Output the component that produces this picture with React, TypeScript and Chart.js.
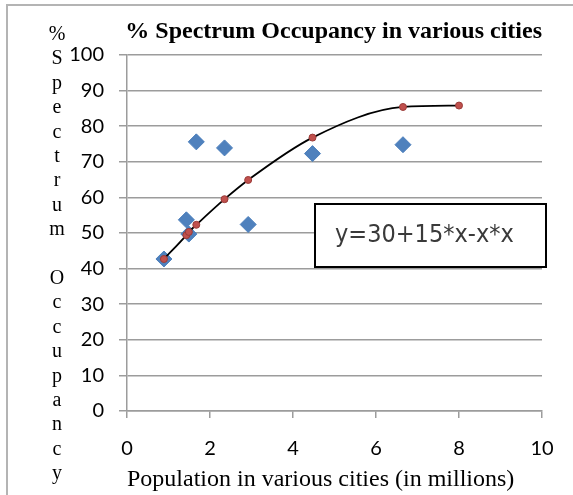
import React, { useEffect, useRef } from 'react';
import { Chart, registerables } from 'chart.js';

Chart.register(...registerables);

const TITLE = '% Spectrum Occupancy in various cities';
const X_TITLE = 'Population in various cities (in millions)';
// y-axis title, stacked one character per line
const Y_TITLE_LINES = ['%', 'S', 'p', 'e', 'c', 't', 'r', 'u', 'm', '', 'O', 'c', 'c', 'u', 'p', 'a', 'n', 'c', 'y'];
const EQUATION = 'y=30+15*x-x*x';

// measured points (blue diamonds)
const POP_X = [0.89, 1.43, 1.49, 1.67, 2.35, 2.92, 4.47, 6.65];
const OCC_Y = [42.7, 53.7, 49.7, 75.6, 73.9, 52.4, 72.3, 74.8];

// fitted points (red dots on the black curve)
const FIT_X = [0.89, 1.43, 1.49, 1.67, 2.35, 2.92, 4.47, 6.65, 8];
const FIT_Y = [42.7, 49.4, 50.3, 52.3, 59.5, 64.9, 76.8, 85.4, 85.8];

const X_MIN = 0;
const X_MAX = 10;
const X_STEP = 2;
const Y_MIN = 0;
const Y_MAX = 100;
const Y_STEP = 10;

const GRID = '#9c9c9c';
const TICK_FONT = { family: 'Lato, "Open Sans", sans-serif', size: 20 };
const SERIF = '"Liberation Serif", "Times New Roman", serif';

const decorPlugin = {
  id: 'decor',
  afterDraw(chart: any) {
    const ctx = chart.ctx as CanvasRenderingContext2D;
    ctx.save();
    // stacked y-axis title
    ctx.font = '20px ' + SERIF;
    ctx.fillStyle = '#000';
    ctx.textAlign = 'center';
    ctx.textBaseline = 'alphabetic';
    Y_TITLE_LINES.forEach((ch, i) => {
      if (ch) ctx.fillText(ch, 57, 40 + i * 24.4);
    });
    // equation text box
    const bx = 315, by = 204, bw = 231, bh = 63;
    ctx.fillStyle = '#ffffff';
    ctx.fillRect(bx, by, bw, bh);
    ctx.strokeStyle = '#000';
    ctx.lineWidth = 2;
    ctx.strokeRect(bx, by, bw, bh);
    ctx.fillStyle = '#3a3a3a';
    ctx.font = '25px "DejaVu Sans Condensed", "DejaVu Sans", sans-serif';
    ctx.textAlign = 'left';
    ctx.fillText(EQUATION, 335, 242);
    ctx.restore();
  },
};

export default function App() {
  const ref = useRef<HTMLCanvasElement | null>(null);

  useEffect(() => {
    if (!ref.current) return;
    const chart = new Chart(ref.current, {
      type: 'scatter',
      data: {
        datasets: [
          {
            label: 'Fit',
            data: FIT_X.map((x, i) => ({ x, y: FIT_Y[i] })),
            showLine: true,
            cubicInterpolationMode: 'monotone',
            borderColor: '#000',
            borderWidth: 1.8,
            pointStyle: 'circle',
            pointRadius: 3.5,
            pointBackgroundColor: '#C0504D',
            pointBorderColor: '#9A3B38',
            pointBorderWidth: 1,
            order: 0,
          } as any,
          {
            label: 'Measured',
            data: POP_X.map((x, i) => ({ x, y: OCC_Y[i] })),
            showLine: false,
            pointStyle: 'rectRot',
            pointRadius: 8,
            pointBackgroundColor: '#4F81BD',
            pointBorderColor: '#4A7EBB',
            pointBorderWidth: 1,
            order: 1,
          } as any,
        ],
      },
      options: {
        responsive: false,
        animation: false,
        devicePixelRatio: 1,
        layout: { padding: { left: 0, right: 31, top: 0, bottom: 0 } },
        plugins: {
          legend: { display: false },
          tooltip: { enabled: false },
          title: {
            display: true,
            text: TITLE,
            align: 'end',
            color: '#000',
            font: { family: SERIF, size: 24, weight: 'bold' },
            padding: { top: 17, bottom: 9.2 },
          },
        },
        scales: {
          x: {
            type: 'linear',
            min: X_MIN,
            max: X_MAX,
            ticks: { stepSize: X_STEP, color: '#000', font: TICK_FONT, padding: 19, maxRotation: 0 },
            grid: { drawOnChartArea: false, drawTicks: true, tickLength: 7, color: GRID, lineWidth: 1.5 },
            border: { display: true, color: GRID, width: 1.5 },
            title: {
              display: true,
              text: X_TITLE,
              align: 'start',
              color: '#000',
              font: { family: SERIF, size: 24 },
              padding: { top: 0, bottom: 0.6 },
            },
            afterFit: (s: any) => { s.height = 84; },
          },
          y: {
            type: 'linear',
            min: Y_MIN,
            max: Y_MAX,
            ticks: { stepSize: Y_STEP, color: '#000', font: TICK_FONT, padding: 15 },
            grid: { drawTicks: true, tickLength: 8, color: GRID, lineWidth: 1.5 },
            border: { display: true, color: GRID, width: 1.5 },
            afterFit: (s: any) => { s.width = 127; },
          },
        },
      } as any,
      plugins: [decorPlugin],
    });
    return () => chart.destroy();
  }, []);

  return (
    <div style={{ position: 'fixed', left: 0, top: 0, width: 573, height: 495, overflow: 'hidden', background: '#fff' }}>
      <div style={{ position: 'absolute', left: 6, top: 4, width: 620, height: 560, border: '2px solid #b4b4b4', boxSizing: 'border-box' }} />
      <canvas ref={ref} width={573} height={495} style={{ position: 'absolute', left: 0, top: 0, width: 573, height: 495 }} />
    </div>
  );
}
